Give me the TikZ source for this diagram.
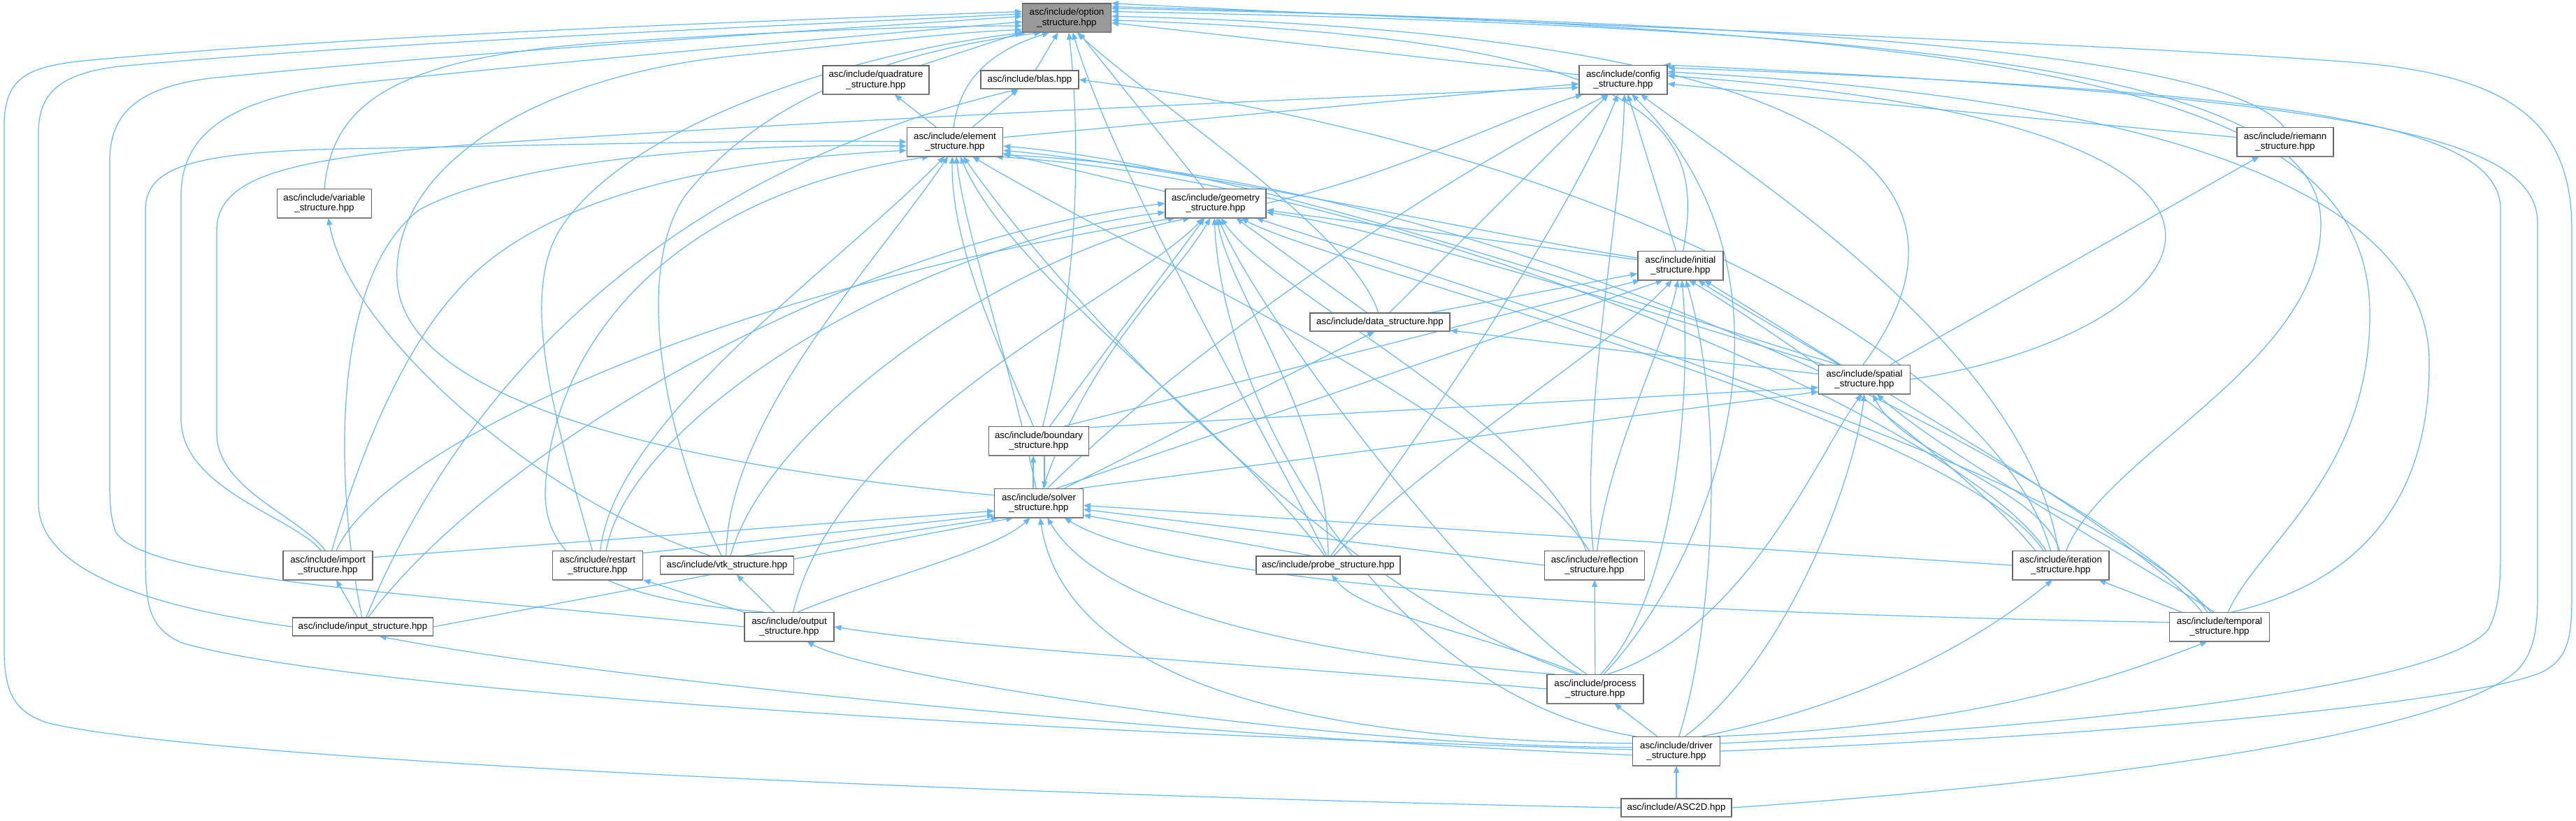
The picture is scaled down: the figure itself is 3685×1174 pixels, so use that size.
\documentclass[tikz,border=0pt]{standalone}
\usepackage{fontspec}
\setmainfont{Liberation Sans}
\usetikzlibrary{arrows.meta}
\definecolor{eb}{HTML}{63B8FF}
\definecolor{bd}{HTML}{666666}
\definecolor{og}{HTML}{999999}
\pgfdeclarelayer{bg}
\pgfsetlayers{bg,main}
\begin{document}
\begin{tikzpicture}[x=0.75pt,y=-0.75pt,
  nd/.style={draw=bd, fill=white, line width=0.9pt, font=\fontsize{10}{11}\selectfont, align=center, inner sep=0pt, minimum height=30.75pt},
  nd1/.style={nd, minimum height=19.5pt},
  e/.style={draw=eb, line width=0.9pt, -{Triangle[length=7.5pt,width=6pt]}}]
\useasboundingbox (0,0) rectangle (3685,1174);
% nodes
\node[nd,fill=og,minimum width=95.25pt] (opt) at (1526,25.5) {asc/include/option\\\_structure.hpp};
\node[nd,minimum width=114pt] (quad) at (1253,114.5) {asc/include/quadrature\\\_structure.hpp};
\node[nd1,minimum width=105pt] (blas) at (1473,114) {asc/include/blas.hpp};
\node[nd,minimum width=94.5pt] (conf) at (2322,114) {asc/include/config\\\_structure.hpp};
\node[nd,minimum width=103pt] (elem) at (1366,203) {asc/include/element\\\_structure.hpp};
\node[nd,minimum width=103.5pt] (riem) at (3269,203) {asc/include/riemann\\\_structure.hpp};
\node[nd,minimum width=101pt] (var) at (464,291) {asc/include/variable\\\_structure.hpp};
\node[nd,minimum width=108pt] (geom) at (1739,291) {asc/include/geometry\\\_structure.hpp};
\node[nd,minimum width=91.5pt] (init) at (2404,380) {asc/include/initial\\\_structure.hpp};
\node[nd1,minimum width=150pt] (data) at (1974,461) {asc/include/data\_structure.hpp};
\node[nd,minimum width=98pt] (spat) at (2667,543) {asc/include/spatial\\\_structure.hpp};
\node[nd,minimum width=107pt] (bnd) at (1486,631) {asc/include/boundary\\\_structure.hpp};
\node[nd,minimum width=95pt] (solv) at (1486,720) {asc/include/solver\\\_structure.hpp};
\node[nd,minimum width=96pt] (imp) at (469,809) {asc/include/import\\\_structure.hpp};
\node[nd,minimum width=97pt] (rst) at (855,809) {asc/include/restart\\\_structure.hpp};
\node[nd1,minimum width=143pt] (vtk) at (1040,809) {asc/include/vtk\_structure.hpp};
\node[nd1,minimum width=154.5pt] (prb) at (1900,809) {asc/include/probe\_structure.hpp};
\node[nd,minimum width=107pt] (refl) at (2281,809) {asc/include/reflection\\\_structure.hpp};
\node[nd,minimum width=103.5pt] (iter) at (2948,809) {asc/include/iteration\\\_structure.hpp};
\node[nd1,minimum width=151pt] (inp) at (519,897) {asc/include/input\_structure.hpp};
\node[nd,minimum width=96pt] (outp) at (1129,897) {asc/include/output\\\_structure.hpp};
\node[nd,minimum width=107pt] (temp) at (3175,897) {asc/include/temporal\\\_structure.hpp};
\node[nd,minimum width=103.5pt] (proc) at (2282,986) {asc/include/process\\\_structure.hpp};
\node[nd,minimum width=94pt] (drv) at (2398,1075) {asc/include/driver\\\_structure.hpp};
\node[nd1,minimum width=118.5pt] (asc) at (2398,1156) {asc/include/ASC2D.hpp};
\foreach \n in {opt,quad,blas,conf,elem,riem,var,geom,init,data,spat,bnd,solv,imp,rst,vtk,prb,refl,iter,inp,outp,temp,proc,drv,asc}
  \draw[bd!85,line width=1.6pt] ([yshift=0.4pt]\n.south west) -- ([yshift=0.4pt]\n.south east);
\begin{pgfonlayer}{bg}
\fill[white] (0,0) rectangle (3685,1174);
% into option
\draw[e] (quad) -- (opt);
\draw[e] (blas) -- (opt);
\draw[e] (elem.95) .. controls (1372,120) and (1410,75) .. (opt.-140);
\draw[e] (geom) -- (opt);
\draw[e] (conf) -- (opt);
\draw[e] (init.80) .. controls (2440,180) and (2380,55) .. (opt.-3);
\draw[e] (data.100) .. controls (1935,330) and (1640,140) .. (opt.-55);
\draw[e] (riem.95) .. controls (3180,70) and (2500,32) .. (opt.12);
\draw[e] (spat.95) .. controls (2830,300) and (2750,50) .. (opt.2);
\draw[e] (var.north) .. controls (475,150) and (560,85) .. (850,62) .. controls (1100,45) and (1300,38) .. (opt.-170);
\draw[e] (bnd.75) .. controls (1540,420) and (1548,220) .. (opt.-82);
\draw[e] (prb.100) .. controls (1800,600) and (1600,260) .. (opt.-68);
\draw[e] (solv.170) .. controls (900,660) and (575,560) .. (568,400) .. controls (560,240) and (760,110) .. (1050,80) .. controls (1250,60) and (1380,45) .. (opt.-165);
\draw[e] (iter.70) .. controls (3010,650) and (3320,520) .. (3320,320) .. controls (3320,110) and (2800,40) .. (opt.8);
\draw[e] (temp.60) .. controls (3230,780) and (3390,680) .. (3390,450) .. controls (3390,120) and (2900,45) .. (opt.14);
\draw[e] (drv.east) .. controls (3100,1050) and (3560,1000) .. (3640,960) .. controls (3675,940) and (3679,910) .. (3679,850) -- (3679,330) .. controls (3679,180) and (3600,105) .. (3350,88) .. controls (2900,55) and (2100,32) .. (opt.18);
\draw[e] (asc.west) .. controls (1500,1140) and (300,1090) .. (70,1035) .. controls (20,1020) and (6,990) .. (6,930) -- (6,180) .. controls (6,115) and (35,97) .. (110,88) .. controls (500,50) and (1100,30) .. (opt.172);
\draw[e] (inp.west) .. controls (260,875) and (55,830) .. (55,720) -- (55,190) .. controls (55,130) and (90,105) .. (170,95) .. controls (550,60) and (1100,38) .. (opt.175);
\draw[e] (outp.west) .. controls (600,850) and (200,830) .. (165,760) .. controls (158,740) and (157,720) .. (157,690) -- (157,230) .. controls (157,160) and (200,125) .. (300,112) .. controls (700,72) and (1150,45) .. (opt.178);
\draw[e] (imp.115) .. controls (420,740) and (259,700) .. (259,600) -- (259,280) .. controls (259,190) and (330,140) .. (500,120) .. controls (900,78) and (1250,50) .. (opt.-175);
\draw[e] (rst.110) .. controls (800,620) and (740,430) .. (800,330) .. controls (900,170) and (1250,70) .. (opt.-160);
\draw[e] (vtk.120) .. controls (960,650) and (900,400) .. (980,280) .. controls (1100,130) and (1300,70) .. (opt.-150);
% into quadrature, blas
\draw[e] (elem) -- (quad);
\draw[e] (elem) -- (blas);
\draw[e] (iter.125) .. controls (2860,520) and (2300,210) .. (blas.east);
\draw[e] (inp.70) .. controls (640,600) and (900,260) .. (blas.-140);
% into config
\draw[e] (elem) -- (conf);
\draw[e] (geom.east) .. controls (2000,250) and (2150,170) .. (conf.-160);
\draw[e] (init) -- (conf);
\draw[e] (data) -- (conf);
\draw[e] (riem) -- (conf);
\draw[e] (spat.east) .. controls (3150,480) and (3400,180) .. (conf.5);
\draw[e] (solv.60) .. controls (1700,500) and (2050,260) .. (conf.-135);
\draw[e] (prb.75) .. controls (2050,600) and (2250,300) .. (conf.-110);
\draw[e] (refl.95) .. controls (2260,600) and (2320,300) .. (conf.-85);
\draw[e] (proc.60) .. controls (2450,800) and (2600,400) .. (conf.-60);
\draw[e] (iter.100) .. controls (2900,500) and (2500,250) .. (conf.-40);
\draw[e] (temp.50) .. controls (3350,840) and (3475,740) .. (3475,520) .. controls (3475,220) and (2900,130) .. (conf.10);
\draw[e] (drv.10) .. controls (3000,1040) and (3500,980) .. (3560,900) .. controls (3575,870) and (3577,840) .. (3577,780) -- (3577,300) .. controls (3577,180) and (3300,130) .. (conf.15);
\draw[e] (asc.east) .. controls (3000,1120) and (3500,1050) .. (3600,960) .. controls (3625,935) and (3630,900) .. (3630,850) -- (3630,320) .. controls (3630,200) and (3400,140) .. (conf.20);
\draw[e] (imp.100) .. controls (430,740) and (310,700) .. (310,620) -- (310,330) .. controls (310,250) and (420,225) .. (700,205) .. controls (1300,165) and (1900,140) .. (conf.-170);
% into element
\draw[e] (geom) -- (elem);
\draw[e] (init.170) .. controls (2150,340) and (1700,240) .. (elem.-10);
\draw[e] (spat.150) .. controls (2350,440) and (1800,240) .. (elem.-5);
\draw[e] (bnd.110) .. controls (1430,500) and (1360,350) .. (elem.-100);
\draw[e] (solv.100) .. controls (1440,500) and (1380,330) .. (elem.-85);
\draw[e] (imp.75) .. controls (500,700) and (560,520) .. (651,420) .. controls (760,290) and (1000,230) .. (elem.-170);
\draw[e] (rst.80) .. controls (880,600) and (1200,380) .. (elem.-125);
\draw[e] (vtk.95) .. controls (1040,600) and (1250,380) .. (elem.-115);
\draw[e] (inp.95) .. controls (480,700) and (470,400) .. (600,300) .. controls (750,220) and (1100,205) .. (elem.-175);
\draw[e] (outp.150) .. controls (900,860) and (776,820) .. (780,700) .. controls (790,500) and (950,280) .. (elem.-150);
\draw[e] (prb.110) .. controls (1750,600) and (1450,400) .. (elem.-70);
\draw[e] (proc.140) .. controls (1900,850) and (1500,400) .. (elem.-60);
\draw[e] (iter.135) .. controls (2800,600) and (2000,260) .. (elem.-20);
\draw[e] (temp.120) .. controls (3000,700) and (2200,260) .. (elem.-15);
\draw[e] (refl.110) .. controls (2150,600) and (1600,350) .. (elem.-40);
\draw[e] (drv.178) .. controls (1500,1050) and (500,990) .. (260,920) .. controls (215,900) and (208,870) .. (208,800) -- (208,300) .. controls (208,230) and (300,215) .. (550,212) .. controls (900,205) and (1150,200) .. (elem.180);
% into geometry
\draw[e] (init) -- (geom);
\draw[e] (data) -- (geom);
\draw[e] (spat.160) .. controls (2400,460) and (2000,330) .. (geom.-10);
\draw[e] (bnd) -- (geom);
\draw[e] (solv.75) .. controls (1560,500) and (1680,400) .. (geom.-110);
\draw[e] (imp.60) .. controls (540,650) and (1000,420) .. (geom.-160);
\draw[e] (rst.60) .. controls (900,600) and (1300,350) .. (geom.-170);
\draw[e] (vtk.70) .. controls (1100,600) and (1450,360) .. (geom.-150);
\draw[e] (inp.60) .. controls (700,650) and (1200,350) .. (geom.180);
\draw[e] (outp.75) .. controls (1200,600) and (1620,420) .. (geom.-130);
\draw[e] (prb.90) .. controls (1900,600) and (1760,420) .. (geom.-85);
\draw[e] (refl.120) .. controls (2200,600) and (1820,420) .. (geom.-70);
\draw[e] (iter.140) .. controls (2800,600) and (1900,380) .. (geom.-30);
\draw[e] (temp.130) .. controls (3050,700) and (2000,380) .. (geom.-20);
\draw[e] (proc.120) .. controls (2100,850) and (1800,450) .. (geom.-80);
\draw[e] (drv.160) .. controls (2000,1000) and (1750,600) .. (geom.-95);
% into initial
\draw[e] (data) -- (init);
\draw[e] (spat) -- (init);
\draw[e] (bnd.30) -- (init.-160);
\draw[e] (solv.40) -- (init.-140);
\draw[e] (prb.60) .. controls (2050,650) and (2300,500) .. (init.-120);
\draw[e] (refl.80) .. controls (2300,650) and (2380,500) .. (init.-100);
\draw[e] (iter.150) .. controls (2800,650) and (2500,450) .. (init.-60);
\draw[e] (temp.140) .. controls (3050,750) and (2550,480) .. (init.-40);
\draw[e] (proc.70) .. controls (2400,850) and (2420,550) .. (init.-85);
\draw[e] (drv.80) .. controls (2450,900) and (2470,600) .. (init.-70);
% into data, spatial, riemann
\draw[e] (spat) -- (data);
\draw[e] (solv.30) -- (data.-120);
\draw[e] (bnd.15) -- (spat.-170);
\draw[e] (solv.20) -- (spat.-165);
\draw[e] (iter.95) .. controls (2920,700) and (2720,650) .. (spat.-60);
\draw[e] (temp.110) .. controls (3050,800) and (2780,650) .. (spat.-50);
\draw[e] (proc.50) .. controls (2500,900) and (2600,650) .. (spat.-100);
\draw[e] (drv.60) .. controls (2550,950) and (2650,700) .. (spat.-90);
\draw[e] (spat) -- (riem);
% boundary <-> solver
\draw[e] ([xshift=-6pt]solv.north) -- ([xshift=-6pt]bnd.south);
\draw[e] ([xshift=6pt]bnd.south) -- ([xshift=6pt]solv.north);
% into solver
\draw[e] (imp.10) -- (solv.190);
\draw[e] (rst.15) -- (solv.195);
\draw[e] (vtk.30) -- (solv.-160);
\draw[e] (inp.east) -- (solv.-150);
\draw[e] (outp.60) .. controls (1250,830) and (1420,790) .. (solv.-120);
\draw[e] (prb.150) -- (solv.-15);
\draw[e] (refl.west) -- (solv.-8);
\draw[e] (iter.west) -- (solv.-3);
\draw[e] (temp.175) .. controls (2500,880) and (1700,850) .. (solv.-30);
\draw[e] (proc.160) .. controls (1900,940) and (1580,880) .. (solv.-60);
\draw[e] (drv.170) .. controls (1800,1060) and (1520,950) .. (solv.-85);
% lower part
\draw[e] (inp) -- (imp);
\draw[e] (outp) -- (rst);
\draw[e] (outp) -- (vtk);
\draw[e] (vtk.150) .. controls (780,720) and (500,480) .. (var.-75);
\draw[e] (proc.135) .. controls (2100,900) and (1950,880) .. (prb.-70);
\draw[e] (proc) -- (refl);
\draw[e] (proc.west) .. controls (1800,950) and (1400,930) .. (outp.east);
\draw[e] (drv) -- (proc);
\draw[e] (drv.30) .. controls (2700,1000) and (2850,900) .. (iter.-120);
\draw[e] (temp) -- (iter);
\draw[e] (drv.20) .. controls (2800,1040) and (3000,980) .. (temp.-130);
\draw[e] (drv.185) .. controls (1800,1060) and (900,980) .. (inp.-30);
\draw[e] (drv.175) .. controls (1900,1070) and (1250,970) .. (outp.-40);
\draw[e] (asc) -- (drv);
\end{pgfonlayer}
\end{tikzpicture}
\end{document}
